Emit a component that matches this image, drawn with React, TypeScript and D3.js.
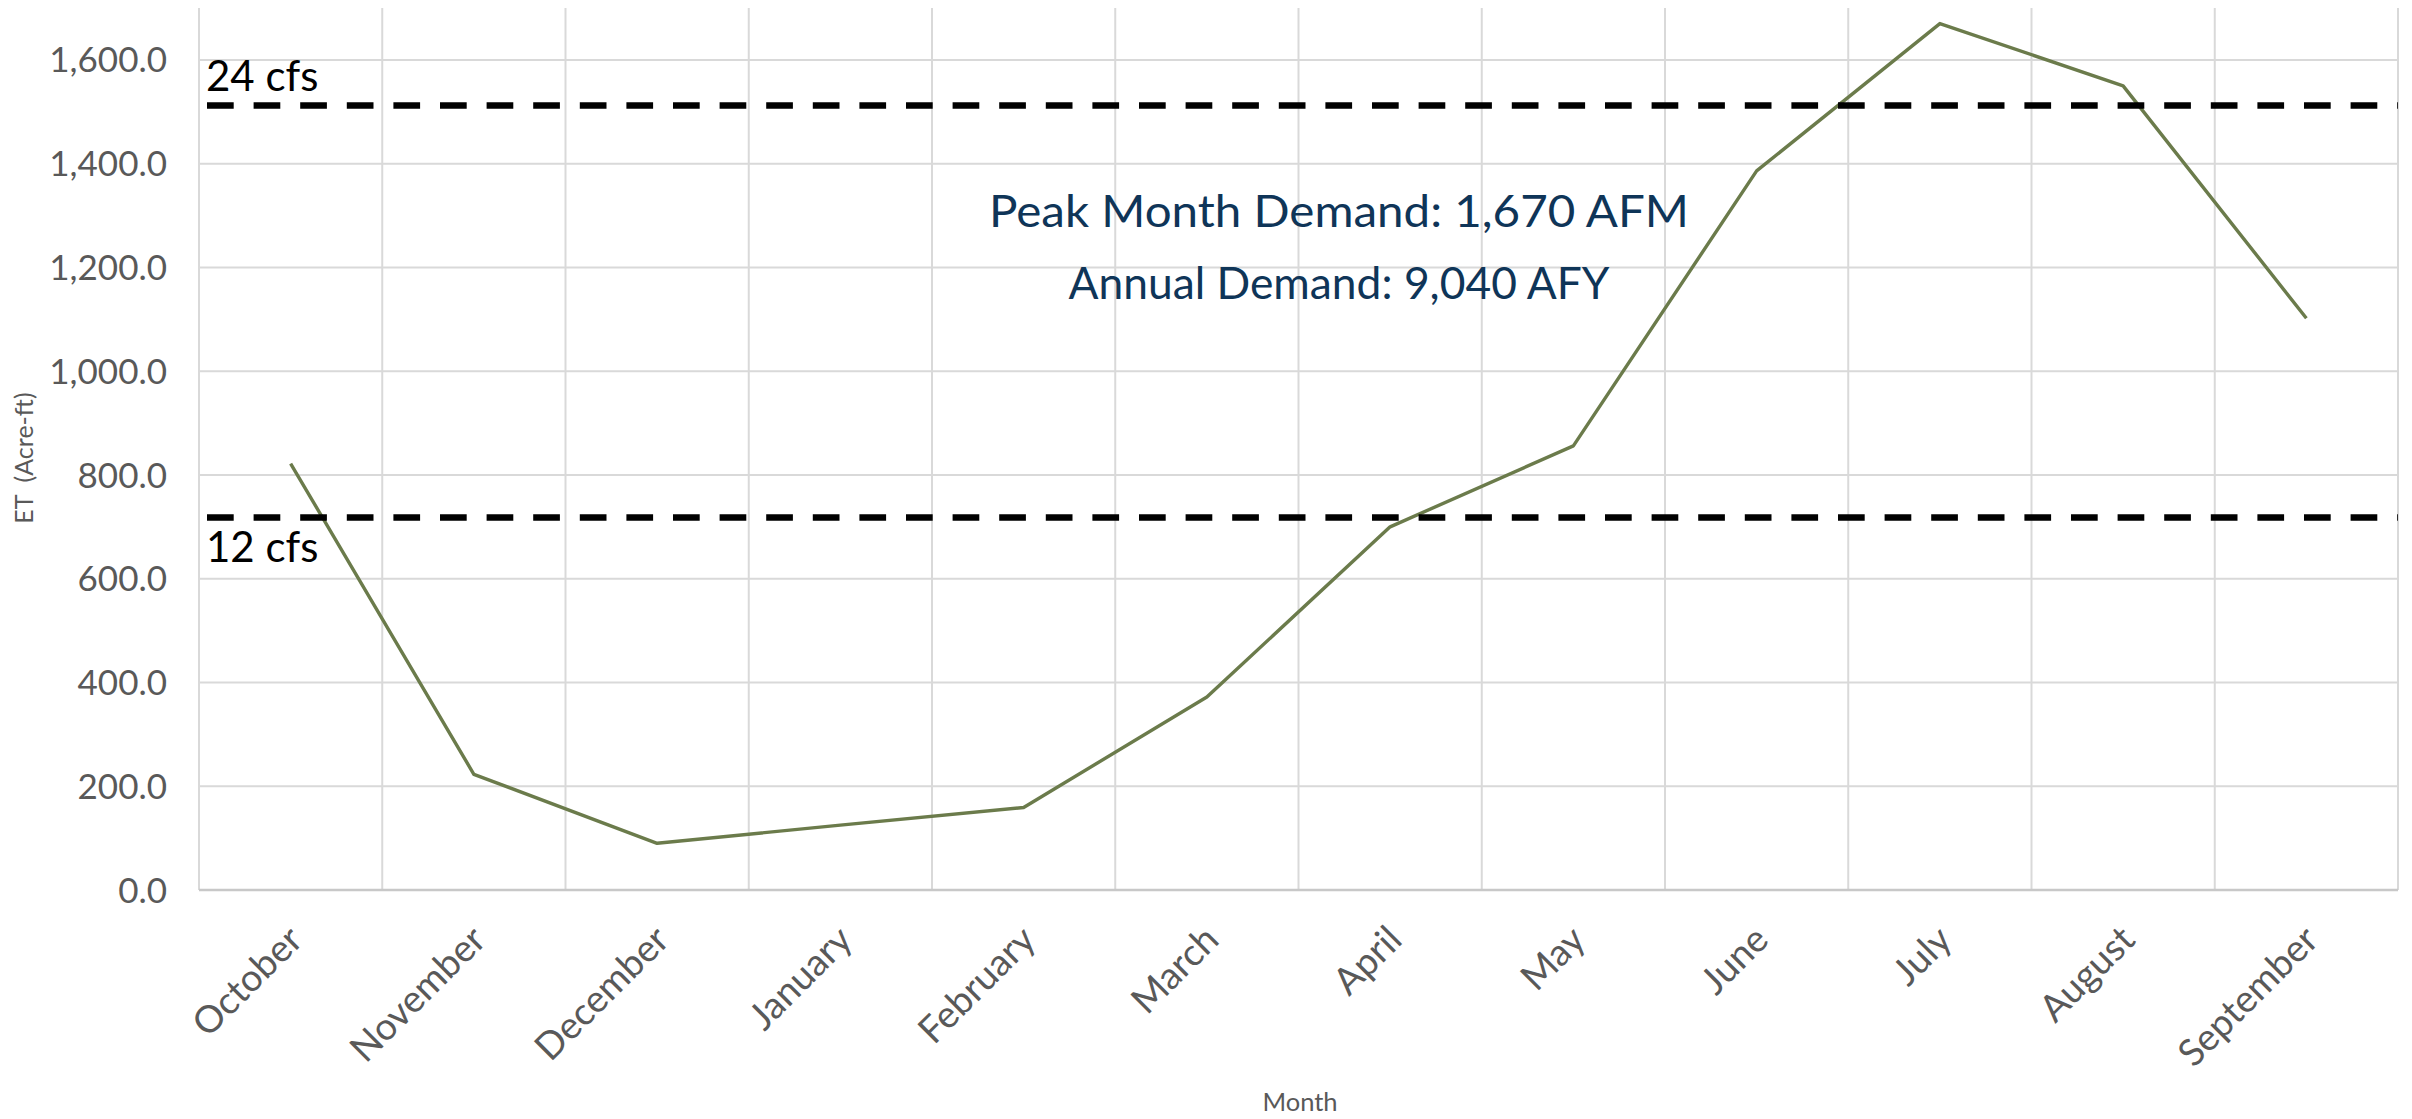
import React from "react";
import * as d3 from "d3";

const months = ["October","November","December","January","February","March","April","May","June","July","August","September"];
const etValues = [822, 223, 90, 125, 159, 372, 700, 856, 1386, 1670, 1550, 1102];
const yTicks = [0, 200, 400, 600, 800, 1000, 1200, 1400, 1600];
const refLines = [
  { label: "24 cfs", value: 1512, above: true },
  { label: "12 cfs", value: 718, above: false },
];
const annotationLines = ["Peak Month Demand: 1,670 AFM", "Annual Demand: 9,040 AFY"];
const annotationWidths = [700, 541];

const W = 2412, H = 1119;
const left = 199, right = 2398, top = 8, bottom = 890;
const FONT = "Lato, 'Noto Sans', sans-serif";

export default function App() {
  const x = d3.scaleBand<string>().domain(months).range([left, right]).padding(0);
  const y = d3.scaleLinear().domain([0, 1700]).range([bottom, top]);
  const bw = x.bandwidth();
  const cx = (m: string) => (x(m) as number) + bw / 2;
  const fmt = d3.format(",.1f");
  const line = d3.line<number>().x((_, i) => cx(months[i])).y((d) => y(d));
  const boundaries = d3.range(months.length + 1).map((i) => left + i * bw);

  return (
    <svg width={W} height={H} style={{ position: "absolute", left: 0, top: 0, background: "#fff" }} fontFamily={FONT}>
      <rect x={0} y={0} width={W} height={H} fill="#fff" />
      {yTicks.filter((t) => t > 0).map((t) => (
        <line key={"h" + t} x1={left} x2={right} y1={y(t)} y2={y(t)} stroke="#D9D9D9" strokeWidth={2} />
      ))}
      {boundaries.map((bx, i) => (
        <line key={"v" + i} x1={bx} x2={bx} y1={top} y2={bottom} stroke="#D9D9D9" strokeWidth={2} />
      ))}
      <line x1={left} x2={right} y1={bottom} y2={bottom} stroke="#C8C8C8" strokeWidth={2.5} />
      {yTicks.map((t) => (
        <text key={"t" + t} x={167} y={y(t)} dy="0.36em" textAnchor="end" fontSize={35} fill="#595959">
          {fmt(t)}
        </text>
      ))}
      {months.map((m) => (
        <text key={m} transform={`translate(${cx(m) + 14},${bottom + 52}) rotate(-45)`} textAnchor="end" fontSize={37.5} fill="#595959">
          {m}
        </text>
      ))}
      <text x={1300} y={1111} textAnchor="middle" fontSize={25.5} fill="#595959">Month</text>
      <text transform={`translate(33,458) rotate(-90)`} textAnchor="middle" fontSize={25} fill="#595959" style={{ whiteSpace: "pre" }}>
        {"ET  (Acre-ft)"}
      </text>
      <path d={line(etValues) || ""} fill="none" stroke="#6B7B4B" strokeWidth={3.4} strokeLinejoin="round" />
      {refLines.map((r) => (
        <g key={r.label}>
          <line x1={207} x2={right} y1={y(r.value)} y2={y(r.value)} stroke="#000" strokeWidth={6.5} strokeDasharray="26.7 19.9" />
          <text x={206} y={r.above ? y(r.value) - 15 : y(r.value) + 45} fontSize={42} fill="#000">{r.label}</text>
        </g>
      ))}
      {annotationLines.map((t, i) => (
        <text key={t} x={1339} y={227 + i * 72} textAnchor="middle" fontSize={45} fill="#0F3558"
          textLength={annotationWidths[i]} lengthAdjust="spacingAndGlyphs">{t}</text>
      ))}
    </svg>
  );
}
